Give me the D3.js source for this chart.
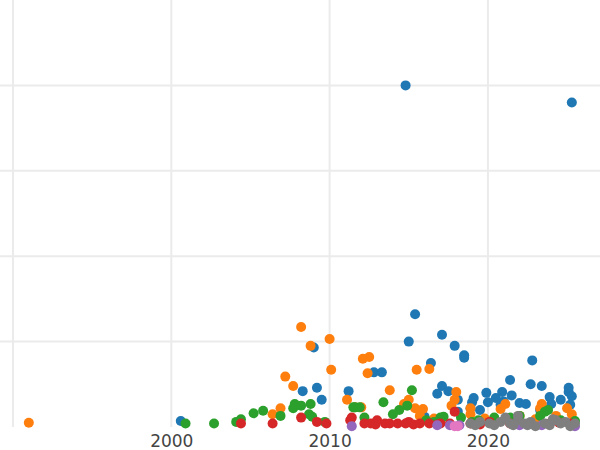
<!DOCTYPE html>
<html>
<head>
<meta charset="utf-8">
<script src="https://cdn.jsdelivr.net/npm/d3@7"></script>
<style>
  body { margin: 0; background: #fff; }
  text { font-family: "DejaVu Sans", sans-serif; }
</style>
</head>
<body>
<script>
const w = 600;
const h = 450;

const xTicks = [1990, 2000, 2010, 2020];
const yGrid = [1, 2, 3, 4];
const colors = ["#1f77b4", "#ff7f0e", "#2ca02c", "#d62728", "#9467bd", "#e377c2", "#7f7f7f"];

// [year, value]
const blue = [[2000.6,0.07],[2014.8,4.0],[2025.3,3.8],[2015.4,1.32],[2017.1,1.08],[2017.9,0.95],[2018.5,0.84],[2018.5,0.81],
  [2015.0,1.0],[2016.4,0.75],[2022.8,0.78],[2009.0,0.93],[2008.3,0.42],[2009.2,0.46],[2009.5,0.32],[2011.2,0.42],
  [2012.8,0.64],[2013.3,0.64],[2017.1,0.48],[2016.8,0.39],[2017.5,0.42],[2018.1,0.32],[2019.0,0.29],[2019.9,0.40],
  [2019.1,0.34],[2020.0,0.29],[2020.5,0.34],[2020.9,0.41],[2021.4,0.55],[2020.8,0.26],[2021.5,0.37],[2022.0,0.28],
  [2022.7,0.50],[2023.4,0.48],[2023.9,0.35],[2024.6,0.32],[2025.1,0.46],[2025.1,0.41],[2025.3,0.36],[2025.2,0.26],
  [2023.3,0.20],[2022.4,0.27],[2019.5,0.20],[2018.1,0.18],[2018.9,0.22],[2021.0,0.30],[2024.0,0.27],[2016.0,0.12]];
const orange = [[1991.0,0.05],[2008.2,1.17],[2010.0,1.03],[2008.8,0.95],[2010.1,0.67],[2007.2,0.59],[2007.7,0.48],
  [2006.9,0.22],[2006.4,0.15],[2013.8,0.43],[2012.1,0.80],[2012.5,0.82],[2012.4,0.63],[2011.1,0.32],[2011.6,0.23],
  [2012.0,0.23],[2015.0,0.32],[2014.7,0.27],[2015.5,0.67],[2016.3,0.68],[2015.9,0.21],[2015.4,0.22],[2018.0,0.41],
  [2017.9,0.32],[2017.7,0.25],[2018.9,0.22],[2020.8,0.21],[2021.1,0.27],[2023.4,0.27],[2023.3,0.22],[2025.0,0.22],
  [2025.3,0.15],[2015.7,0.13],[2018.9,0.15],[2022.0,0.13],[2024.3,0.13],[2016.6,0.10],[2019.8,0.10],[2023.0,0.09]];
const green = [[2000.9,0.04],[2002.7,0.04],[2004.1,0.06],[2004.4,0.09],[2005.2,0.16],[2005.8,0.19],[2006.9,0.13],
  [2007.7,0.22],[2007.8,0.27],[2008.2,0.25],[2008.8,0.27],[2008.7,0.15],[2008.9,0.12],[2009.7,0.06],[2011.5,0.23],
  [2011.6,0.23],[2011.9,0.23],[2013.4,0.29],[2012.2,0.11],[2014.0,0.15],[2014.4,0.20],[2015.2,0.43],[2014.9,0.25],
  [2016.1,0.08],[2017.0,0.11],[2017.2,0.12],[2018.3,0.11],[2019.4,0.08],[2020.4,0.11],[2021.4,0.11],[2022.0,0.13],
  [2023.8,0.20],[2023.6,0.18],[2023.3,0.13],[2024.6,0.08],[2025.5,0.07],[2016.6,0.06],[2019.0,0.06],[2021.8,0.07]];
const red = [[2004.4,0.04],[2006.4,0.04],[2008.2,0.11],[2009.2,0.06],[2009.8,0.04],[2011.3,0.08],[2011.4,0.11],
  [2012.2,0.04],[2012.6,0.04],[2013.0,0.08],[2013.5,0.04],[2013.8,0.04],[2014.3,0.04],[2014.8,0.04],[2015.0,0.06],
  [2015.7,0.04],[2016.3,0.04],[2017.0,0.04],[2017.9,0.18],[2017.6,0.04],[2018.9,0.04],[2020.1,0.06],[2021.4,0.04],
  [2022.7,0.04],[2023.9,0.04],[2025.2,0.04],[2012.9,0.03],[2015.3,0.03],[2016.8,0.03],[2019.5,0.03],[2024.5,0.05]];
const purple = [[2011.4,0.01],[2016.8,0.02],[2017.6,0.02],[2018.2,0.02],[2022.0,0.02],[2023.4,0.02],[2025.5,0.01]];
const pink = [[2017.9,0.01],[2018.1,0.01]];
const gray = [[2018.9,0.04],[2019.5,0.06],[2020.1,0.04],[2020.8,0.06],[2021.1,0.11],[2021.4,0.04],[2021.9,0.08],
  [2022.3,0.04],[2022.7,0.06],[2023.0,0.01],[2023.6,0.04],[2024.3,0.08],[2024.6,0.04],[2024.9,0.06],[2025.2,0.01],
  [2025.5,0.04],[2019.2,0.02],[2020.4,0.02],[2021.6,0.02],[2022.5,0.02],[2023.9,0.02],[2024.1,0.09],[2021.9,0.13]];

const series = [blue, orange, green, red, purple, pink, gray];

const xScale = d3.scaleLinear().domain([1989.18, 2027.08]).range([0, w]);
const yScale = d3.scaleLinear().domain([0, 5]).range([427, 0]);

const svg = d3.select("body").append("svg").attr("width", w).attr("height", h);

// GRID
svg.selectAll(".hgrid").data(yGrid).join("line")
  .attr("x1", 0).attr("x2", w)
  .attr("y1", d => yScale(d)).attr("y2", d => yScale(d))
  .attr("stroke", "#ebebeb").attr("stroke-width", 2);

svg.selectAll(".vgrid").data(xTicks).join("line")
  .attr("x1", d => xScale(d)).attr("x2", d => xScale(d))
  .attr("y1", 0).attr("y2", yScale(0))
  .attr("stroke", "#ebebeb").attr("stroke-width", 2);

// X AXIS
const xAxis = svg.append("g")
  .attr("transform", `translate(0, ${yScale(0)})`)
  .call(d3.axisBottom(xScale).tickValues(xTicks.slice(1)).tickFormat(d3.format("d")).tickSize(0).tickPadding(8));
xAxis.select(".domain").remove();
xAxis.selectAll("text").attr("font-size", 17).attr("fill", "#444").attr("font-family", "DejaVu Sans, sans-serif");

// POINTS
series.forEach((s, i) => {
  svg.append("g").selectAll("circle").data(s).join("circle")
    .attr("cx", d => xScale(d[0]))
    .attr("cy", d => yScale(d[1]))
    .attr("r", 5)
    .attr("fill", colors[i]);
});
</script>
</body>
</html>
